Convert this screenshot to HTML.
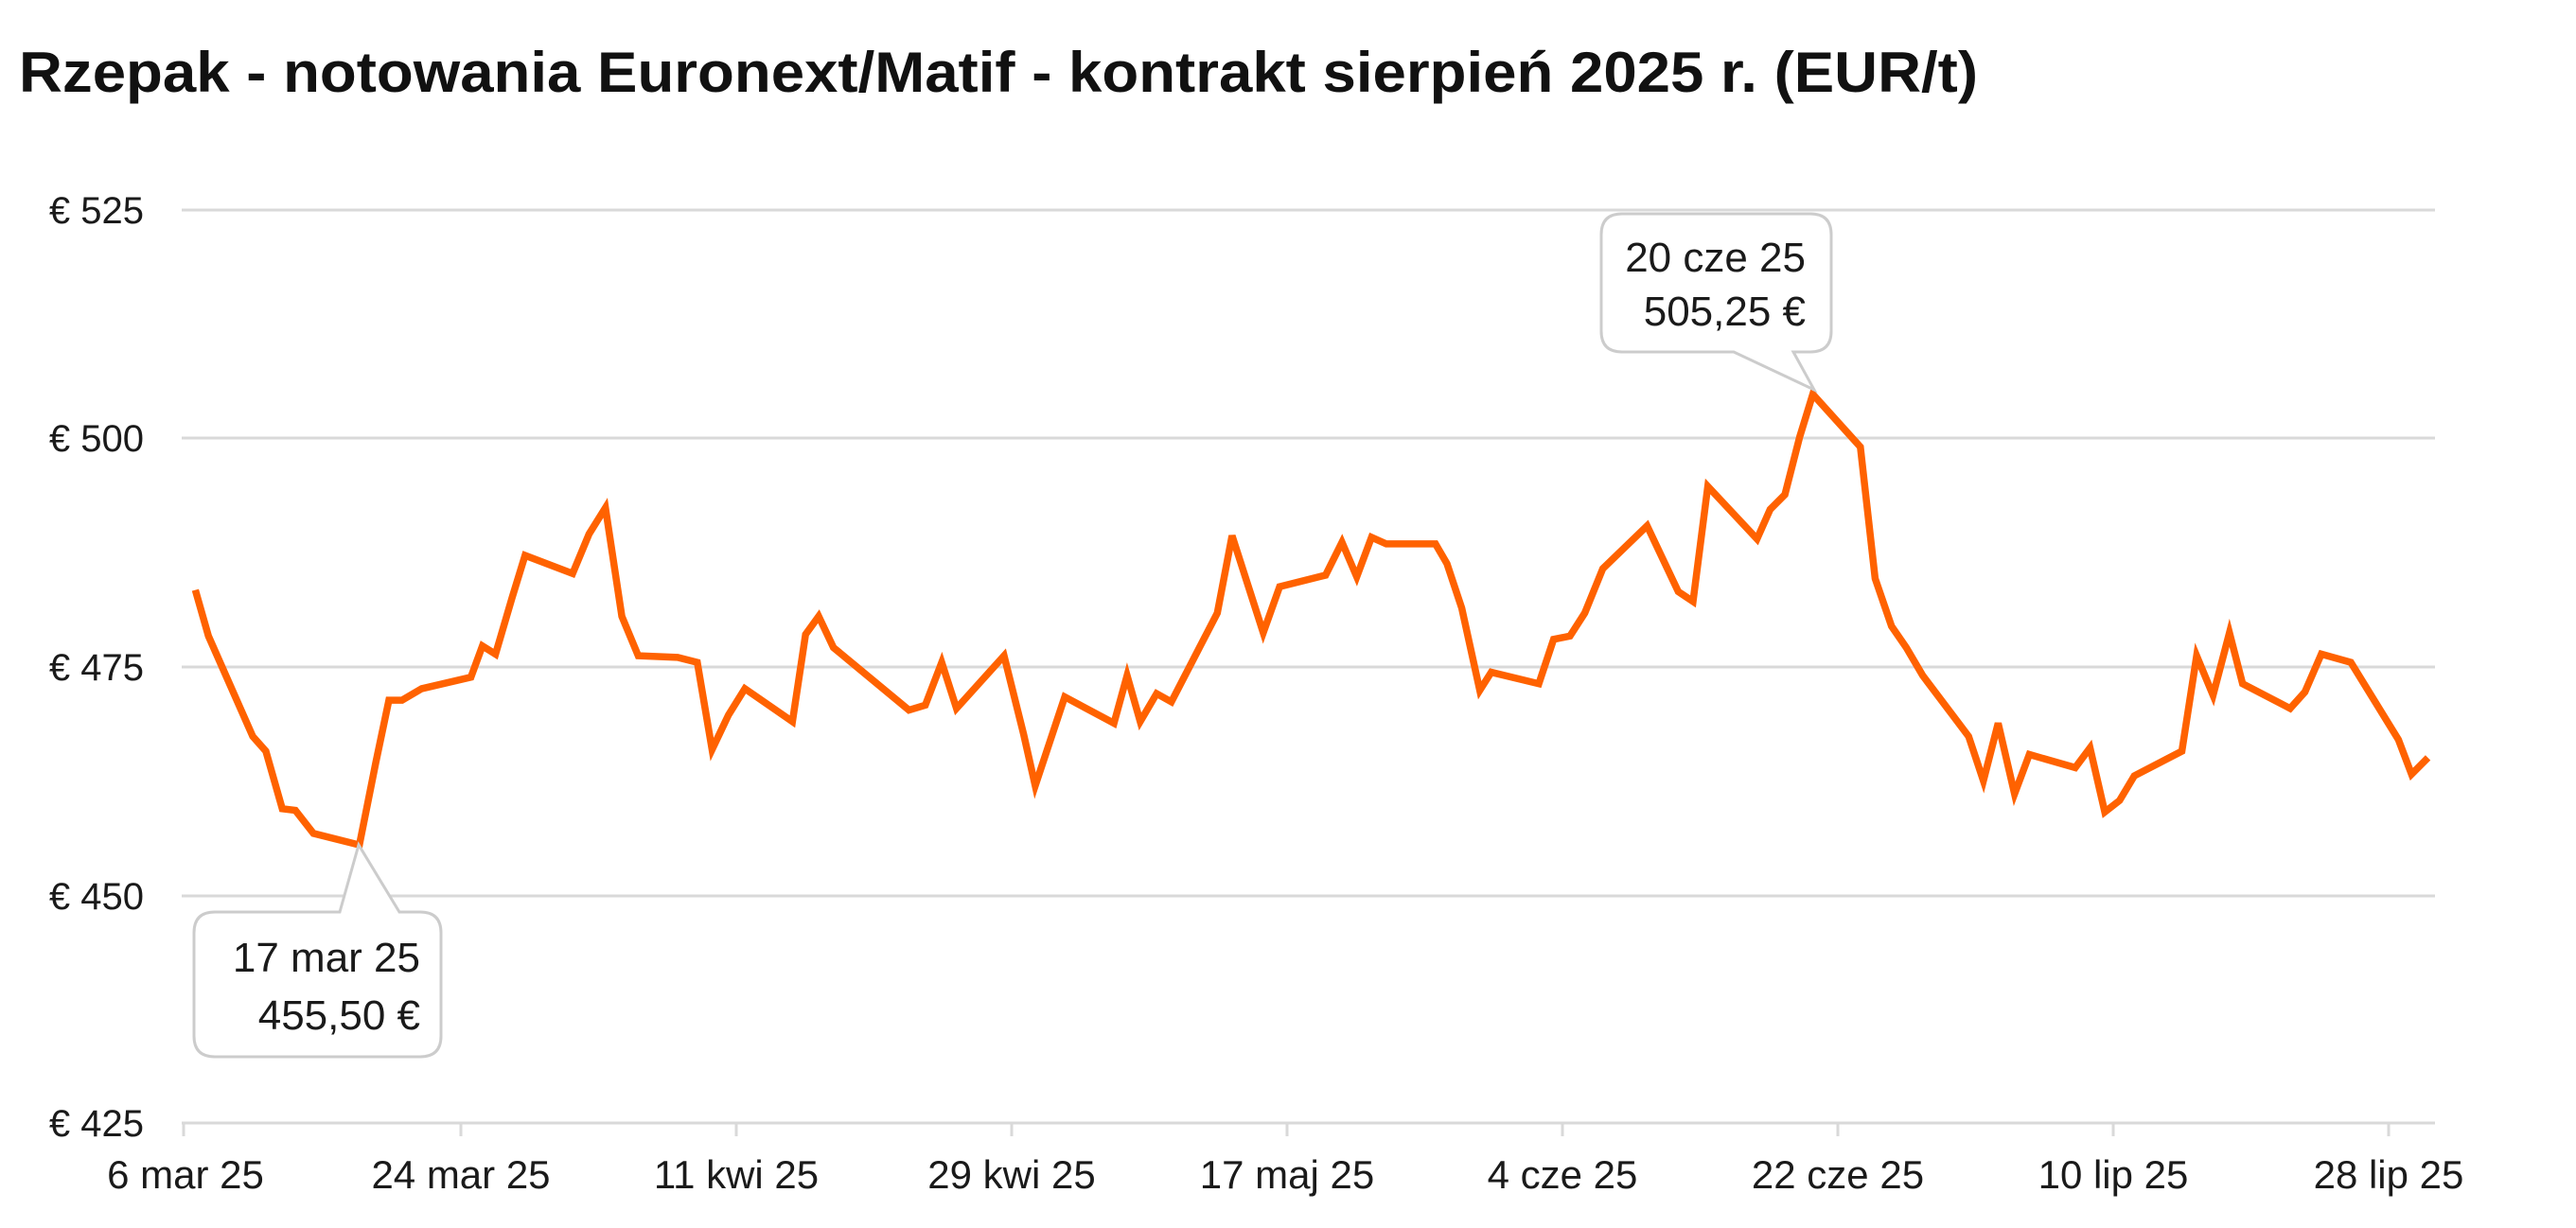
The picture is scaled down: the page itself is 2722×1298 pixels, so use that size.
<!DOCTYPE html>
<html><head><meta charset="utf-8"><style>
html,body{margin:0;padding:0;background:#fff;}
svg{display:block;font-family:"Liberation Sans",sans-serif;}
</style></head><body>
<svg width="2722" height="1298" viewBox="0 0 2722 1298" xmlns="http://www.w3.org/2000/svg">
<text x="20" y="97" font-size="60" font-weight="bold" fill="#111" textLength="2070" lengthAdjust="spacingAndGlyphs">Rzepak - notowania Euronext/Matif - kontrakt sierpień 2025 r. (EUR/t)</text>
<g stroke="#d9d9d9" stroke-width="3">
<line x1="192" y1="222" x2="2573" y2="222"/>
<line x1="192" y1="463" x2="2573" y2="463"/>
<line x1="192" y1="705" x2="2573" y2="705"/>
<line x1="192" y1="947" x2="2573" y2="947"/>
<line x1="192" y1="1187" x2="2573" y2="1187"/>
<line x1="194" y1="1187" x2="194" y2="1201"/>
<line x1="487" y1="1187" x2="487" y2="1201"/>
<line x1="778" y1="1187" x2="778" y2="1201"/>
<line x1="1069" y1="1187" x2="1069" y2="1201"/>
<line x1="1360" y1="1187" x2="1360" y2="1201"/>
<line x1="1651" y1="1187" x2="1651" y2="1201"/>
<line x1="1942" y1="1187" x2="1942" y2="1201"/>
<line x1="2233" y1="1187" x2="2233" y2="1201"/>
<line x1="2524" y1="1187" x2="2524" y2="1201"/>
</g>
<g font-size="40" fill="#1a1a1a" text-anchor="end">
<text x="152" y="236">€ 525</text>
<text x="152" y="477">€ 500</text>
<text x="152" y="719">€ 475</text>
<text x="152" y="961">€ 450</text>
<text x="152" y="1201">€ 425</text>
</g>
<g font-size="42" fill="#1a1a1a" text-anchor="middle">
<text x="196" y="1256">6 mar 25</text>
<text x="487" y="1256">24 mar 25</text>
<text x="778" y="1256">11 kwi 25</text>
<text x="1069" y="1256">29 kwi 25</text>
<text x="1360" y="1256">17 maj 25</text>
<text x="1651" y="1256">4 cze 25</text>
<text x="1942" y="1256">22 cze 25</text>
<text x="2233" y="1256">10 lip 25</text>
<text x="2524" y="1256">28 lip 25</text>
</g>
<g transform="translate(3.59,-0.54) scale(1.7334,1.7386)">
<polyline fill="none" stroke="#FF6200" stroke-width="7.5" vector-effect="non-scaling-stroke" stroke-linejoin="miter" points="117,359 125,387 152,448 160,457 170,492 178,493 189,507 217,514 227,464 235,426 243,426 255,419 285,412 292,393 300,398 310,364 318,338 347,349 357,325 367,309 377,375 387,399 411,400 423,403 432,456 442,435 452,419 481,439 489,386 497,375 506,394 552,432 562,429 572,403 581,431 610,399 622,447 629,478 647,424 677,440 685,411 693,439 703,422 712,427 740,373 749,326 768,385 778,357 806,350 816,330 825,351 834,327 843,331 873,331 880,343 889,370 900,420 907,409 936,416 945,389 955,387 964,373 975,346 1002,320 1021,360 1030,366 1039,296 1069,328 1077,310 1086,301 1095,266 1103,240 1132,272 1141,352 1151,381 1160,394 1170,411 1198,448 1207,475 1216,440 1226,483 1235,459 1263,467 1272,455 1281,494 1290,487 1299,472 1328,457 1337,399 1347,423 1357,385 1365,416 1394,431 1403,421 1413,398 1431,403 1460,450 1468,471 1478,461"/>
</g>
<path d="M1714,226 H1913 Q1935,226 1935,248 V350 Q1935,372 1913,372 H1895 L1917,412 L1832,372 H1714 Q1692,372 1692,350 V248 Q1692,226 1714,226 Z" fill="#fff" stroke="#cccccc" stroke-width="3"/>
<g font-size="44" fill="#1a1a1a" text-anchor="end">
<text x="1908" y="287">20 cze 25</text>
<text x="1908" y="344">505,25 €</text>
</g>
<path d="M227,964 H359 L379,893 L422,964 H444 Q466,964 466,986 V1095 Q466,1117 444,1117 H227 Q205,1117 205,1095 V986 Q205,964 227,964 Z" fill="#fff" stroke="#cccccc" stroke-width="3"/>
<g font-size="44" fill="#1a1a1a" text-anchor="end">
<text x="444" y="1027">17 mar 25</text>
<text x="444" y="1088">455,50 €</text>
</g>
</svg>
</body></html>
